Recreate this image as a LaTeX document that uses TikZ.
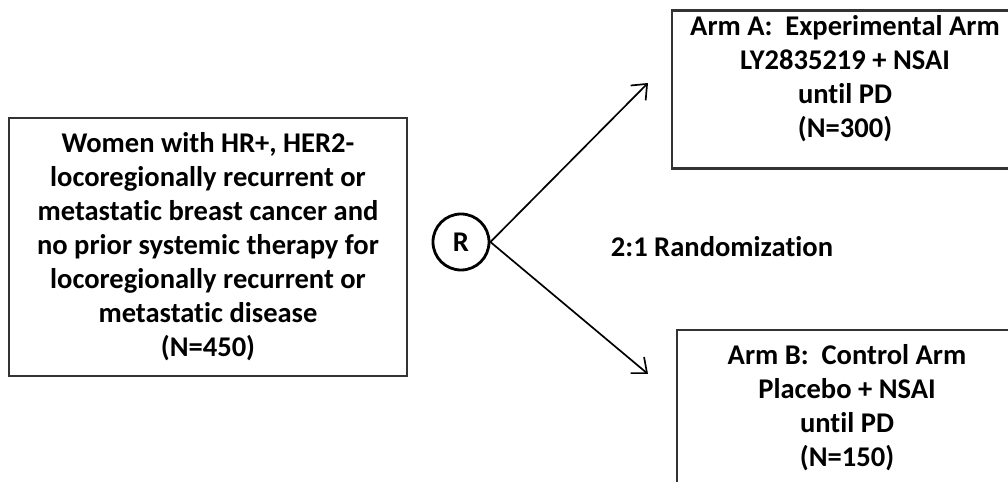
\documentclass[tikz,border=0pt]{standalone}
\usepackage{fontspec}
\setmainfont{Carlito}[Ligatures=NoCommon]
\usetikzlibrary{arrows.meta, positioning}

\begin{document}
\begin{tikzpicture}[
    x=0.025cm, y=0.025cm,
    every node/.style={font=\bfseries\fontsize{20.3}{24.2}\selectfont},
    cohort/.style={
        draw=black!80,
        line width=2pt,
        minimum width=9.95cm,
        minimum height=6.45cm,
        align=center
    },
    arm/.style={
        draw=black!80,
        line width=2pt,
        minimum height=3.85cm,
        align=center
    },
    randnode/.style={
        draw,
        circle,
        line width=2pt,
        minimum size=1.4cm,
        inner sep=0pt
    },
    arrow/.style={
        -{Straight Barb[length=9pt, width=15pt]},
        line width=1.2pt
    }
]

% Canvas
\fill[white] (0,0) rectangle (1008,481);
\useasboundingbox (0,0) rectangle (1008,481);

% Population (Left)
\node[cohort] (pop) at (208, 234) {
    Women with HR+, HER2-\\
    locoregionally recurrent or\\
    metastatic breast cancer and\\
    no prior systemic therapy for\\
    locoregionally recurrent or\\
    metastatic disease\\
    (N=450)
};

% Randomization
\node[randnode] (rand) at (461, 239) {R};
\node[anchor=west] (ratio) at (606, 234) {2:1 Randomization};

% Treatment arms (Right)
\node[arm, minimum width=8.65cm, minimum height=3.83cm, text depth=19pt] (armA) at (845, 391.5) {
    Arm A:~ Experimental Arm\\
    LY2835219 + NSAI\\
    until PD\\
    (N=300)
};

\node[arm, minimum width=8.5cm, minimum height=3.9cm] (armB) at (847, 73) {
    Arm B:~ Control Arm\\
    Placebo + NSAI\\
    until PD\\
    (N=150)
};

% Arrow tips
\coordinate (tipA) at (648, 398);
\coordinate (tipB) at (648, 107);

% Arrows from R to arms
\draw[arrow] (rand.east) -- (tipA);
\draw[arrow] (rand.east) -- (tipB);

\end{tikzpicture}
\end{document}
